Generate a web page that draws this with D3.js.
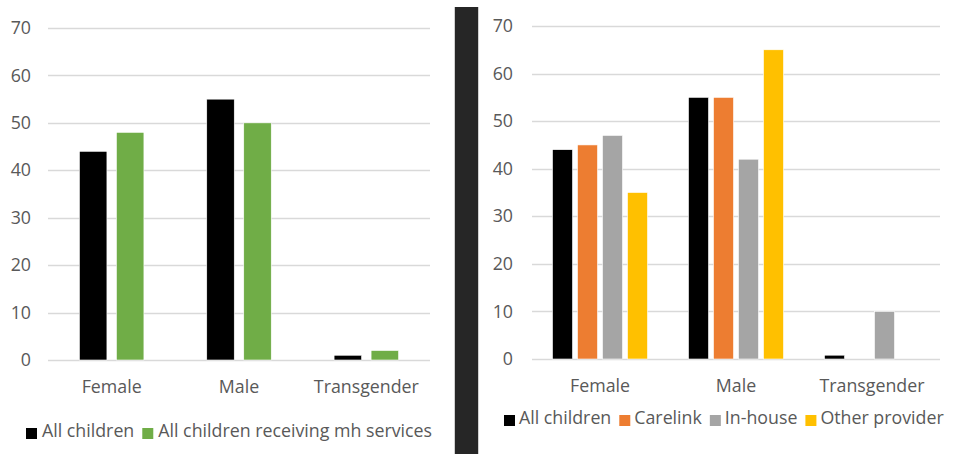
<!DOCTYPE html>
<html>
<head>
<meta charset="utf-8">
<script src="https://cdn.jsdelivr.net/npm/d3@7"></script>
<style>
  html, body { margin: 0; padding: 0; background: #fff; }
  svg { display: block; font-family: "Open Sans", Lato, sans-serif; }
</style>
</head>
<body>
<svg id="chart" width="955" height="454"></svg>
<script>
// Categories and tick values shared by both panels
const categories = ["Female", "Male", "Transgender"];
const yTicks = [0, 10, 20, 30, 40, 50, 60, 70];

// Left panel: all children vs. children receiving mental health services (%)
const leftSeries = ["All children", "All children receiving mh services"];
const leftAllChildren = [44, 55, 1];
const leftReceivingMh = [48, 50, 2];

// Right panel: breakdown by provider (%)
const rightSeries = ["All children", "Carelink", "In-house", "Other provider"];
const rightAllChildren = [44, 55, 0.8];
const rightCarelink = [45, 55, 0];
const rightInHouse = [47, 42, 10];
const rightOtherProvider = [35, 65, 0];

const FONT = "'Open Sans', Lato, sans-serif";
const FONT_SIZE = "17.8px";
const TEXT_COLOR = "#595959";

const svg = d3.select("#chart");

function drawPanel(cfg) {
  const g = svg.append("g");
  const x = d3.scaleBand().domain(categories).range([cfg.x0, cfg.x1]).padding(0);
  const y = d3.scaleLinear().domain([0, 70]).range([cfg.yBottom, cfg.yTop]);

  // gridlines
  g.append("g").selectAll("line").data(yTicks).join("line")
    .attr("x1", cfg.x0).attr("x2", cfg.x1)
    .attr("y1", d => Math.round(y(d)) + 0.5).attr("y2", d => Math.round(y(d)) + 0.5)
    .attr("stroke", "#d9d9d9").attr("stroke-width", 1.3);

  // y axis labels
  const yAxis = d3.axisLeft(y).tickValues(yTicks).tickSize(0).tickPadding(0);
  const ya = g.append("g").attr("transform", `translate(${cfg.yLabelX},0)`).call(yAxis);
  ya.select(".domain").remove();
  ya.selectAll("text").attr("fill", TEXT_COLOR).style("font-size", FONT_SIZE)
    .style("font-family", FONT);

  // bars
  const n = cfg.series.length;
  cfg.values.forEach((vals, si) => {
    g.append("g").selectAll("rect").data(vals).join("rect")
      .attr("x", (d, i) => x(categories[i]) + x.bandwidth() / 2 + (si - (n - 1) / 2) * cfg.step - cfg.barW / 2)
      .attr("width", cfg.barW)
      .attr("y", d => y(d))
      .attr("height", d => y(0) - y(d))
      .attr("fill", cfg.colors[si])
      .attr("stroke", d => d > 0 ? "#ffffff" : "none").attr("stroke-width", 0.6);
  });

  // x axis labels (baseline placed at xLabelY)
  const xAxis = d3.axisBottom(x).tickSize(0).tickPadding(0);
  const xa = g.append("g").attr("transform", `translate(0,${cfg.xLabelY})`).call(xAxis);
  xa.select(".domain").remove();
  xa.selectAll("text").attr("y", 0).attr("dy", 0).attr("fill", TEXT_COLOR)
    .style("font-size", FONT_SIZE).style("font-family", FONT);

  // legend
  const leg = g.append("g").attr("transform", `translate(${cfg.legendX},${cfg.legendY})`);
  let cx = 0;
  cfg.series.forEach((s, si) => {
    const item = leg.append("g").attr("transform", `translate(${cx},0)`);
    item.append("rect").attr("x", 0).attr("y", cfg.swatchY).attr("width", cfg.swatch).attr("height", cfg.swatch)
      .attr("fill", cfg.colors[si]);
    const t = item.append("text").attr("x", cfg.textX).attr("y", 0)
      .attr("fill", TEXT_COLOR).style("font-size", FONT_SIZE).style("font-family", FONT).text(s);
    cx += cfg.textX + t.node().getComputedTextLength() + cfg.legendGap;
  });
}

drawPanel({
  x0: 48, x1: 430, yTop: 28, yBottom: 360,
  yLabelX: 31, xLabelY: 392.5,
  series: leftSeries,
  values: [leftAllChildren, leftReceivingMh],
  colors: ["#000000", "#70ad47"],
  barW: 27.5, step: 37,
  legendX: 26, legendY: 437, legendGap: 8,
  swatch: 11, swatchY: -9, textX: 16
});

drawPanel({
  x0: 532, x1: 940, yTop: 26, yBottom: 359,
  yLabelX: 513, xLabelY: 391.5,
  series: rightSeries,
  values: [rightAllChildren, rightCarelink, rightInHouse, rightOtherProvider],
  colors: ["#000000", "#ed7d31", "#a5a5a5", "#ffc000"],
  barW: 20, step: 25,
  legendX: 504, legendY: 424, legendGap: 8,
  swatch: 11, swatchY: -9, textX: 15
});

// vertical divider between the two panels
svg.append("rect").attr("x", 454).attr("y", 7).attr("width", 25).attr("height", 447)
  .attr("fill", "#d0d0d0");
svg.append("rect").attr("x", 455).attr("y", 7).attr("width", 23).attr("height", 447)
  .attr("fill", "#262626");
</script>
</body>
</html>
